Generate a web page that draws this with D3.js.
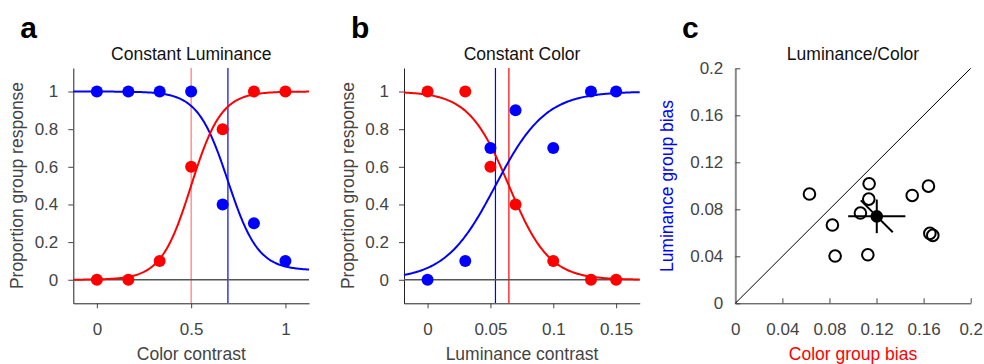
<!DOCTYPE html>
<html>
<head>
<meta charset="utf-8">
<script src="https://cdn.jsdelivr.net/npm/d3@7"></script>
<style>
  body { margin: 0; background: #fff; }
  svg { font-family: "Liberation Sans", Arial, Helvetica, sans-serif; }
</style>
</head>
<body>
<svg id="fig" width="984" height="364"></svg>
<script>
// panel a: constant luminance
const aContrast = [0, 0.167, 0.333, 0.5, 0.667, 0.833, 1];
const aBlue = [1, 1, 1, 1, 0.4, 0.3, 0.1];
const aRed = [0, 0, 0.1, 0.6, 0.8, 1, 1];
// fitted logistic params: [mu, slope, lower, upper, direction]
const aBlueFit = [0.695, 0.08, 0.05, 1, -1];
const aRedFit = [0.5, 0.08, 0, 1, 1];
const aTicksX = [0, 0.5, 1];

// panel b: constant color
const bContrast = [0, 0.03, 0.05, 0.07, 0.1, 0.13, 0.15];
const bRed = [1, 1, 0.6, 0.4, 0.1, 0, 0];
const bBlue = [0, 0.1, 0.7, 0.9, 0.7, 1, 1];
const bRedFit = [0.0647, 0.016, 0, 1, -1];
const bBlueFit = [0.054, 0.02, 0, 1, 1];
const bTicksX = [0, 0.05, 0.1, 0.15];

const yTicks = [0, 0.2, 0.4, 0.6, 0.8, 1];

// panel c: bias per observer
const colorBias = [0.063, 0.1137, 0.1134, 0.1063, 0.0825, 0.0848, 0.1126, 0.1503, 0.1641, 0.1653, 0.1678];
const lumBias = [0.093, 0.1017, 0.0887, 0.0768, 0.0666, 0.0402, 0.0413, 0.0918, 0.0997, 0.0595, 0.0578];
const meanBias = [0.1202, 0.074];
const errColor = 0.0243, errLum = 0.0143, errDiag = 0.0136;
const cTicks = [0, 0.04, 0.08, 0.12, 0.16, 0.2];

const BLUE = "#0000ff", RED = "#ff0000";
const FS = "17.5px", TFS = "17px";
const svg = d3.select("#fig");

function logistic(p) {
  return x => p[2] + (p[3] - p[2]) / (1 + Math.exp(-p[4] * (x - p[0]) / p[1]));
}

function psychPanel(opt) {
  const x = d3.scaleLinear().domain(opt.xdom).range([opt.left, opt.left + 235.7]);
  const y = d3.scaleLinear().domain([-0.125, 1.125]).range([303.3, 68]);
  const g = svg.append("g");

  // axes
  const xa = g.append("g").attr("transform", "translate(0,303.3)")
    .call(d3.axisBottom(x).tickValues(opt.ticks).tickSize(5).tickSizeOuter(0).tickPadding(14.6).tickFormat(d3.format("")));
  const ya = g.append("g").attr("transform", `translate(${opt.left},0)`)
    .call(d3.axisLeft(y).tickValues(yTicks).tickSize(5).tickSizeOuter(0).tickPadding(10).tickFormat(d3.format("")));
  [xa, ya].forEach(a => {
    a.select(".domain").attr("stroke", "#222");
    a.selectAll(".tick line").attr("stroke", "#444");
    a.selectAll(".tick text").attr("fill", "#444").style("font-size", TFS);
  });

  // threshold lines
  opt.vlines.forEach(v => {
    g.append("line").attr("x1", x(v[0])).attr("x2", x(v[0]))
      .attr("y1", 68).attr("y2", 303).attr("stroke", v[1]).attr("stroke-width", 1.2);
  });
  g.append("line").attr("x1", x(opt.xdom[0])).attr("x2", x(opt.xdom[1]))
    .attr("y1", y(0)).attr("y2", y(0)).attr("stroke", "#555").attr("stroke-width", 1.5);

  // fitted curves
  const xs = d3.range(0, 201).map(i => opt.xdom[0] + (opt.xdom[1] - opt.xdom[0]) * i / 200);
  opt.series.forEach(s => {
    const f = logistic(s.fit);
    g.append("path").datum(xs)
      .attr("d", d3.line().x(d => x(d)).y(d => y(f(d))))
      .attr("fill", "none").attr("stroke", s.color).attr("stroke-width", 2);
  });
  opt.series.forEach(s => {
    g.selectAll(null).data(s.vals).enter().append("circle")
      .attr("cx", (d, i) => x(opt.xs[i])).attr("cy", d => y(d)).attr("r", 6)
      .attr("fill", s.color);
  });

  // labels
  g.append("text").attr("x", opt.left + 118).attr("y", 60).attr("text-anchor", "middle")
    .style("font-size", FS).attr("fill", "#111").text(opt.title);
  g.append("text").attr("x", opt.left + 118).attr("y", 360).attr("text-anchor", "middle")
    .style("font-size", FS).attr("fill", "#444").text(opt.xlabel);
  g.append("text").attr("transform", `translate(${opt.left - 50},185.5) rotate(-90)`)
    .attr("text-anchor", "middle").style("font-size", FS).attr("fill", "#444")
    .text("Proportion group response");
  g.append("text").attr("x", opt.left - 53).attr("y", 38).style("font-size", "30px")
    .style("font-weight", "bold").attr("fill", "#000").text(opt.letter);
}

psychPanel({
  letter: "a", title: "Constant Luminance", xlabel: "Color contrast",
  left: 73.3, xdom: [-0.125, 1.125], ticks: aTicksX, xs: aContrast,
  vlines: [[aRedFit[0], "#ff7878"], [aBlueFit[0], BLUE]],
  series: [{ vals: aBlue, fit: aBlueFit, color: BLUE }, { vals: aRed, fit: aRedFit, color: RED }]
});

psychPanel({
  letter: "b", title: "Constant Color", xlabel: "Luminance contrast",
  left: 404, xdom: [-0.01875, 0.16875], ticks: bTicksX, xs: bContrast,
  vlines: [[bBlueFit[0], BLUE], [bRedFit[0], RED]],
  series: [{ vals: bRed, fit: bRedFit, color: RED }, { vals: bBlue, fit: bBlueFit, color: BLUE }]
});

// panel c
(function () {
  const x = d3.scaleLinear().domain([0, 0.2]).range([735.3, 970.7]);
  const y = d3.scaleLinear().domain([0, 0.2]).range([303.3, 68.3]);
  const g = svg.append("g");
  const fmt = d => d === 0 ? "0" : d3.format("")(+d.toFixed(2));

  const xa = g.append("g").attr("transform", "translate(0,303.3)")
    .call(d3.axisBottom(x).tickValues(cTicks).tickSize(-5).tickSizeOuter(0).tickPadding(19.6).tickFormat(fmt));
  const ya = g.append("g").attr("transform", "translate(735.3,0)")
    .call(d3.axisLeft(y).tickValues(cTicks).tickSize(-5).tickSizeOuter(0).tickPadding(12).tickFormat(fmt));
  xa.select(".domain").attr("stroke", "#333");
  ya.select(".domain").attr("stroke", "#888").attr("stroke-width", 2);
  [xa, ya].forEach(a => {
    a.selectAll(".tick line").attr("stroke", "#444");
    a.selectAll(".tick text").attr("fill", "#444").style("font-size", TFS);
  });

  g.append("line").attr("x1", x(0)).attr("y1", y(0)).attr("x2", x(0.2)).attr("y2", y(0.2))
    .attr("stroke", "#000").attr("stroke-width", 1);

  g.selectAll(null).data(colorBias).enter().append("circle")
    .attr("cx", d => x(d)).attr("cy", (d, i) => y(lumBias[i])).attr("r", 5.8)
    .attr("fill", "none").attr("stroke", "#000").attr("stroke-width", 2);

  const [mx, my] = meanBias;
  const bars = [
    [mx - errColor, my, mx + errColor, my],
    [mx, my - errLum, mx, my + errLum],
    [mx - errDiag, my + errDiag, mx + errDiag, my - errDiag]
  ];
  g.selectAll(null).data(bars).enter().append("line")
    .attr("x1", d => x(d[0])).attr("y1", d => y(d[1]))
    .attr("x2", d => x(d[2])).attr("y2", d => y(d[3]))
    .attr("stroke", "#000").attr("stroke-width", 2);
  g.append("circle").attr("cx", x(mx)).attr("cy", y(my)).attr("r", 6.3).attr("fill", "#000");

  g.append("text").attr("x", 853).attr("y", 60).attr("text-anchor", "middle")
    .style("font-size", FS).attr("fill", "#111").text("Luminance/Color");
  g.append("text").attr("x", 853).attr("y", 360).attr("text-anchor", "middle")
    .style("font-size", FS).attr("fill", RED).text("Color group bias");
  g.append("text").attr("transform", "translate(673,186) rotate(-90)")
    .attr("text-anchor", "middle").style("font-size", FS).attr("fill", BLUE)
    .text("Luminance group bias");
  g.append("text").attr("x", 682).attr("y", 38).style("font-size", "30px")
    .style("font-weight", "bold").attr("fill", "#000").text("c");
})();
</script>
</body>
</html>
